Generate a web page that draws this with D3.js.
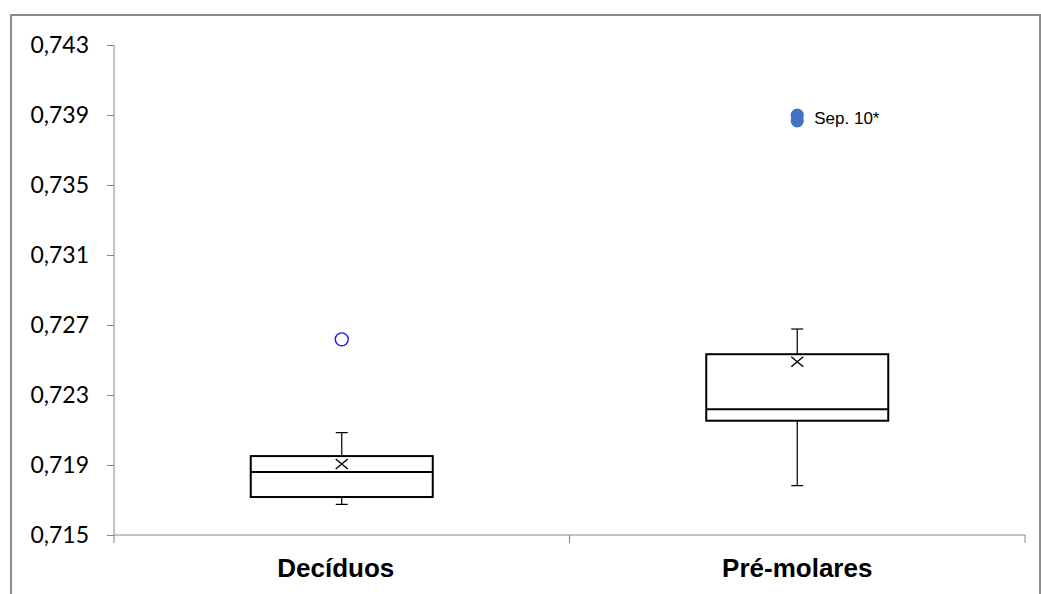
<!DOCTYPE html>
<html>
<head>
<meta charset="utf-8">
<script src="https://cdn.jsdelivr.net/npm/d3@7"></script>
<style>
  body { margin: 0; background: #fff; }
  svg { display: block; }
</style>
</head>
<body>
<svg id="chart" width="1041" height="594"></svg>
<script>
// box plot summary per group
var categories = ["Decíduos", "Pré-molares"];
var whiskerLow = [0.71675, 0.71782];
var q1 = [0.71717, 0.72153];
var median = [0.7186, 0.72218];
var q3 = [0.71951, 0.72533];
var whiskerHigh = [0.72085, 0.72677];
var means = [0.71906, 0.7249];

// outliers: open ones are plain outliers, filled ones are the labelled sample
var outlierGroup = ["Decíduos", "Pré-molares", "Pré-molares"];
var outlierValue = [0.72618, 0.73867, 0.73899];
var outlierFilled = [false, true, true];
var outlierLabel = "Sep. 10*";

var yTicks = [0.715, 0.719, 0.723, 0.727, 0.731, 0.735, 0.739, 0.743];

var svg = d3.select("#chart");

// outer chart frame (runs off the bottom of the picture)
svg.append("rect")
    .attr("x", 11).attr("y", 15)
    .attr("width", 1029).attr("height", 620)
    .attr("fill", "none")
    .attr("stroke", "#8c8c8c")
    .attr("stroke-width", 2);

var y = d3.scaleLinear().domain([0.715, 0.743]).range([535, 45]);
var x = d3.scaleBand().domain(categories).range([114, 1025]);
var boxW = 182;

var fmt = function (v) { return d3.format(".3f")(v).replace(".", ","); };

// y axis
var yAxis = svg.append("g")
    .attr("transform", "translate(114,0)")
    .call(d3.axisLeft(y).tickValues(yTicks).tickFormat(fmt).tickSize(7).tickPadding(18));
yAxis.select(".domain").attr("stroke", "#868686").attr("d", "M0,45V535");
yAxis.selectAll(".tick line").attr("stroke", "#868686");
yAxis.selectAll(".tick text")
    .attr("font-family", "Lato, 'Open Sans', sans-serif")
    .attr("font-size", 23)
    .attr("fill", "#000");

// x axis: ticks sit between the categories
svg.append("line")
    .attr("x1", 114).attr("x2", 1025)
    .attr("y1", y(0.715)).attr("y2", y(0.715))
    .attr("stroke", "#868686");
var edges = categories.map(function (c) { return x(c); }).concat([x.range()[1]]);
svg.selectAll(".xtick")
    .data(edges)
    .enter()
    .append("line")
    .attr("x1", d => d).attr("x2", d => d)
    .attr("y1", y(0.715)).attr("y2", y(0.715) + 8)
    .attr("stroke", "#868686");
svg.selectAll(".xlabel")
    .data(categories)
    .enter()
    .append("text")
    .attr("x", d => x(d) + x.bandwidth() / 2 - (d === "Decíduos" ? 6 : 0))
    .attr("y", 577)
    .attr("text-anchor", "middle")
    .attr("font-family", "'Liberation Sans', Arial, sans-serif")
    .attr("font-weight", "bold")
    .attr("font-size", 26)
    .text(d => d);

var cx = function (i) { return x(categories[i]) + x.bandwidth() / 2; };

categories.forEach(function (c, i) {
    var g = svg.append("g");
    var mx = cx(i);
    // whiskers
    [[whiskerLow[i], q1[i]], [q3[i], whiskerHigh[i]]].forEach(function (seg) {
        g.append("line")
            .attr("x1", mx).attr("x2", mx)
            .attr("y1", y(seg[0])).attr("y2", y(seg[1]))
            .attr("stroke", "#000").attr("stroke-width", 1.2);
    });
    [whiskerLow[i], whiskerHigh[i]].forEach(function (v) {
        g.append("line")
            .attr("x1", mx - 6).attr("x2", mx + 6)
            .attr("y1", y(v)).attr("y2", y(v))
            .attr("stroke", "#000").attr("stroke-width", 1.2);
    });
    // box
    g.append("rect")
        .attr("x", mx - boxW / 2).attr("y", y(q3[i]))
        .attr("width", boxW).attr("height", y(q1[i]) - y(q3[i]))
        .attr("fill", "#fff")
        .attr("stroke", "#000").attr("stroke-width", 2);
    g.append("line")
        .attr("x1", mx - boxW / 2).attr("x2", mx + boxW / 2)
        .attr("y1", y(median[i])).attr("y2", y(median[i]))
        .attr("stroke", "#000").attr("stroke-width", 2);
    // mean marker
    var my = y(means[i]);
    g.append("path")
        .attr("d", "M" + (mx - 6) + "," + (my - 5) + "L" + (mx + 6) + "," + (my + 5) +
            "M" + (mx - 6) + "," + (my + 5) + "L" + (mx + 6) + "," + (my - 5))
        .attr("stroke", "#000").attr("stroke-width", 1.4)
        .attr("fill", "none");
});

// outliers
svg.selectAll(".outlier")
    .data(outlierValue)
    .enter()
    .append("circle")
    .attr("cx", (d, i) => cx(categories.indexOf(outlierGroup[i])))
    .attr("cy", d => y(d))
    .attr("r", (d, i) => outlierFilled[i] ? 6.6 : 6.5)
    .attr("fill", (d, i) => outlierFilled[i] ? "#4472c4" : "none")
    .attr("stroke", (d, i) => outlierFilled[i] ? "none" : "#1a1aff")
    .attr("stroke-width", 1.4);

var labelled = outlierValue.filter((d, i) => outlierFilled[i]);
svg.append("text")
    .attr("x", cx(1) + 17)
    .attr("y", y(d3.mean(labelled)) + 6)
    .attr("font-family", "'Liberation Sans', Arial, sans-serif")
    .attr("font-size", 17)
    .attr("fill", "#000")
    .text(outlierLabel);
</script>
</body>
</html>
